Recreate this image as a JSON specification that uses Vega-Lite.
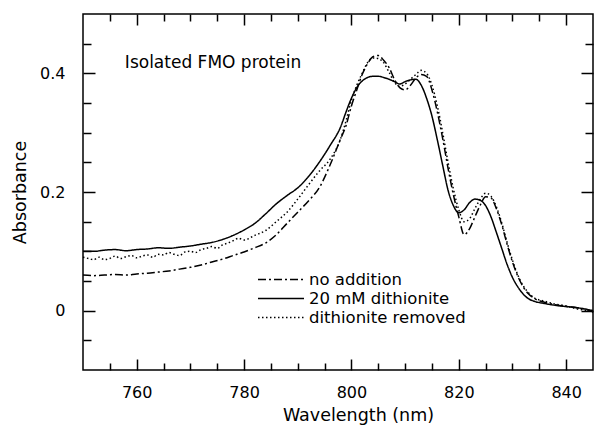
{
  "$schema": "https://vega.github.io/schema/vega-lite/v6.json",
  "width": 510,
  "height": 356,
  "autosize": "none",
  "padding": {"left": 83, "top": 14, "right": 2, "bottom": 57},
  "background": "white",
  "config": {
    "font": "DejaVu Sans",
    "view": {"stroke": "black", "strokeWidth": 1.5},
    "axis": {"domain": false, "grid": false, "tickColor": "black", "tickWidth": 1.5, "labelColor": "black", "titleColor": "black", "labelFontSize": 16, "titleFontSize": 17.5, "titleFontWeight": "normal", "labelFlush": false},
    "legend": {"labelFontSize": 16.5, "labelColor": "black"}
  },
  "datasets": {
    "spectra": [
      {"w":750,"a":0.100,"s":"20 mM dithionite"},{"w":752,"a":0.100,"s":"20 mM dithionite"},{"w":754,"a":0.102,"s":"20 mM dithionite"},{"w":756,"a":0.103,"s":"20 mM dithionite"},{"w":758,"a":0.101,"s":"20 mM dithionite"},{"w":760,"a":0.103,"s":"20 mM dithionite"},{"w":762,"a":0.104,"s":"20 mM dithionite"},{"w":764,"a":0.106,"s":"20 mM dithionite"},{"w":766,"a":0.105,"s":"20 mM dithionite"},{"w":768,"a":0.107,"s":"20 mM dithionite"},{"w":770,"a":0.109,"s":"20 mM dithionite"},{"w":772,"a":0.112,"s":"20 mM dithionite"},{"w":774,"a":0.115,"s":"20 mM dithionite"},{"w":776,"a":0.120,"s":"20 mM dithionite"},{"w":778,"a":0.127,"s":"20 mM dithionite"},{"w":780,"a":0.136,"s":"20 mM dithionite"},{"w":782,"a":0.147,"s":"20 mM dithionite"},{"w":784,"a":0.163,"s":"20 mM dithionite"},{"w":786,"a":0.180,"s":"20 mM dithionite"},{"w":788,"a":0.194,"s":"20 mM dithionite"},{"w":790,"a":0.207,"s":"20 mM dithionite"},{"w":792,"a":0.226,"s":"20 mM dithionite"},{"w":794,"a":0.250,"s":"20 mM dithionite"},{"w":796,"a":0.278,"s":"20 mM dithionite"},{"w":798,"a":0.310,"s":"20 mM dithionite"},{"w":799,"a":0.335,"s":"20 mM dithionite"},{"w":800,"a":0.358,"s":"20 mM dithionite"},{"w":801,"a":0.376,"s":"20 mM dithionite"},{"w":802,"a":0.387,"s":"20 mM dithionite"},{"w":803,"a":0.393,"s":"20 mM dithionite"},{"w":804,"a":0.395,"s":"20 mM dithionite"},{"w":805,"a":0.395,"s":"20 mM dithionite"},{"w":806,"a":0.393,"s":"20 mM dithionite"},{"w":807,"a":0.390,"s":"20 mM dithionite"},{"w":808,"a":0.386,"s":"20 mM dithionite"},{"w":809,"a":0.382,"s":"20 mM dithionite"},{"w":810,"a":0.386,"s":"20 mM dithionite"},{"w":811,"a":0.389,"s":"20 mM dithionite"},{"w":812,"a":0.390,"s":"20 mM dithionite"},{"w":813,"a":0.380,"s":"20 mM dithionite"},{"w":814,"a":0.358,"s":"20 mM dithionite"},{"w":815,"a":0.328,"s":"20 mM dithionite"},{"w":816,"a":0.288,"s":"20 mM dithionite"},{"w":817,"a":0.245,"s":"20 mM dithionite"},{"w":818,"a":0.203,"s":"20 mM dithionite"},{"w":819,"a":0.177,"s":"20 mM dithionite"},{"w":820,"a":0.165,"s":"20 mM dithionite"},{"w":821,"a":0.170,"s":"20 mM dithionite"},{"w":822,"a":0.182,"s":"20 mM dithionite"},{"w":823,"a":0.188,"s":"20 mM dithionite"},{"w":824,"a":0.186,"s":"20 mM dithionite"},{"w":825,"a":0.177,"s":"20 mM dithionite"},{"w":826,"a":0.158,"s":"20 mM dithionite"},{"w":827,"a":0.132,"s":"20 mM dithionite"},{"w":828,"a":0.105,"s":"20 mM dithionite"},{"w":829,"a":0.078,"s":"20 mM dithionite"},{"w":830,"a":0.056,"s":"20 mM dithionite"},{"w":831,"a":0.040,"s":"20 mM dithionite"},{"w":832,"a":0.028,"s":"20 mM dithionite"},{"w":833,"a":0.020,"s":"20 mM dithionite"},{"w":834,"a":0.016,"s":"20 mM dithionite"},{"w":836,"a":0.012,"s":"20 mM dithionite"},{"w":838,"a":0.009,"s":"20 mM dithionite"},{"w":840,"a":0.007,"s":"20 mM dithionite"},{"w":842,"a":0.005,"s":"20 mM dithionite"},{"w":844,"a":0.002,"s":"20 mM dithionite"},{"w":845,"a":0.000,"s":"20 mM dithionite"},
      {"w":750,"a":0.060,"s":"no addition"},{"w":752,"a":0.059,"s":"no addition"},{"w":754,"a":0.060,"s":"no addition"},{"w":756,"a":0.061,"s":"no addition"},{"w":758,"a":0.060,"s":"no addition"},{"w":760,"a":0.062,"s":"no addition"},{"w":762,"a":0.063,"s":"no addition"},{"w":764,"a":0.065,"s":"no addition"},{"w":766,"a":0.067,"s":"no addition"},{"w":768,"a":0.070,"s":"no addition"},{"w":770,"a":0.073,"s":"no addition"},{"w":772,"a":0.077,"s":"no addition"},{"w":774,"a":0.082,"s":"no addition"},{"w":776,"a":0.087,"s":"no addition"},{"w":778,"a":0.093,"s":"no addition"},{"w":780,"a":0.099,"s":"no addition"},{"w":782,"a":0.106,"s":"no addition"},{"w":784,"a":0.114,"s":"no addition"},{"w":786,"a":0.128,"s":"no addition"},{"w":788,"a":0.147,"s":"no addition"},{"w":790,"a":0.166,"s":"no addition"},{"w":792,"a":0.185,"s":"no addition"},{"w":794,"a":0.207,"s":"no addition"},{"w":796,"a":0.245,"s":"no addition"},{"w":798,"a":0.290,"s":"no addition"},{"w":799,"a":0.312,"s":"no addition"},{"w":800,"a":0.345,"s":"no addition"},{"w":801,"a":0.372,"s":"no addition"},{"w":802,"a":0.398,"s":"no addition"},{"w":803,"a":0.416,"s":"no addition"},{"w":804,"a":0.428,"s":"no addition"},{"w":805,"a":0.430,"s":"no addition"},{"w":806,"a":0.422,"s":"no addition"},{"w":807,"a":0.410,"s":"no addition"},{"w":808,"a":0.390,"s":"no addition"},{"w":809,"a":0.376,"s":"no addition"},{"w":810,"a":0.372,"s":"no addition"},{"w":811,"a":0.380,"s":"no addition"},{"w":812,"a":0.392,"s":"no addition"},{"w":813,"a":0.398,"s":"no addition"},{"w":814,"a":0.395,"s":"no addition"},{"w":815,"a":0.372,"s":"no addition"},{"w":816,"a":0.335,"s":"no addition"},{"w":817,"a":0.290,"s":"no addition"},{"w":818,"a":0.240,"s":"no addition"},{"w":819,"a":0.195,"s":"no addition"},{"w":820,"a":0.158,"s":"no addition"},{"w":821,"a":0.128,"s":"no addition"},{"w":822,"a":0.138,"s":"no addition"},{"w":823,"a":0.158,"s":"no addition"},{"w":824,"a":0.178,"s":"no addition"},{"w":825,"a":0.192,"s":"no addition"},{"w":826,"a":0.190,"s":"no addition"},{"w":827,"a":0.172,"s":"no addition"},{"w":828,"a":0.145,"s":"no addition"},{"w":829,"a":0.112,"s":"no addition"},{"w":830,"a":0.082,"s":"no addition"},{"w":831,"a":0.058,"s":"no addition"},{"w":832,"a":0.040,"s":"no addition"},{"w":833,"a":0.028,"s":"no addition"},{"w":834,"a":0.021,"s":"no addition"},{"w":836,"a":0.014,"s":"no addition"},{"w":838,"a":0.010,"s":"no addition"},{"w":840,"a":0.007,"s":"no addition"},{"w":842,"a":0.005,"s":"no addition"},{"w":844,"a":0.001,"s":"no addition"},{"w":845,"a":-0.002,"s":"no addition"},
      {"w":750,"a":0.090,"s":"dithionite removed"},{"w":751,"a":0.088,"s":"dithionite removed"},{"w":752,"a":0.086,"s":"dithionite removed"},{"w":753,"a":0.090,"s":"dithionite removed"},{"w":754,"a":0.086,"s":"dithionite removed"},{"w":755,"a":0.088,"s":"dithionite removed"},{"w":756,"a":0.092,"s":"dithionite removed"},{"w":757,"a":0.088,"s":"dithionite removed"},{"w":758,"a":0.091,"s":"dithionite removed"},{"w":759,"a":0.093,"s":"dithionite removed"},{"w":760,"a":0.089,"s":"dithionite removed"},{"w":761,"a":0.092,"s":"dithionite removed"},{"w":762,"a":0.094,"s":"dithionite removed"},{"w":763,"a":0.090,"s":"dithionite removed"},{"w":764,"a":0.095,"s":"dithionite removed"},{"w":765,"a":0.094,"s":"dithionite removed"},{"w":766,"a":0.098,"s":"dithionite removed"},{"w":767,"a":0.095,"s":"dithionite removed"},{"w":768,"a":0.093,"s":"dithionite removed"},{"w":769,"a":0.099,"s":"dithionite removed"},{"w":770,"a":0.100,"s":"dithionite removed"},{"w":771,"a":0.098,"s":"dithionite removed"},{"w":772,"a":0.103,"s":"dithionite removed"},{"w":773,"a":0.105,"s":"dithionite removed"},{"w":774,"a":0.108,"s":"dithionite removed"},{"w":775,"a":0.105,"s":"dithionite removed"},{"w":776,"a":0.111,"s":"dithionite removed"},{"w":777,"a":0.114,"s":"dithionite removed"},{"w":778,"a":0.118,"s":"dithionite removed"},{"w":779,"a":0.122,"s":"dithionite removed"},{"w":780,"a":0.119,"s":"dithionite removed"},{"w":782,"a":0.127,"s":"dithionite removed"},{"w":784,"a":0.135,"s":"dithionite removed"},{"w":786,"a":0.150,"s":"dithionite removed"},{"w":788,"a":0.166,"s":"dithionite removed"},{"w":790,"a":0.188,"s":"dithionite removed"},{"w":792,"a":0.212,"s":"dithionite removed"},{"w":794,"a":0.235,"s":"dithionite removed"},{"w":796,"a":0.255,"s":"dithionite removed"},{"w":798,"a":0.290,"s":"dithionite removed"},{"w":799,"a":0.320,"s":"dithionite removed"},{"w":800,"a":0.355,"s":"dithionite removed"},{"w":801,"a":0.380,"s":"dithionite removed"},{"w":802,"a":0.400,"s":"dithionite removed"},{"w":803,"a":0.418,"s":"dithionite removed"},{"w":804,"a":0.426,"s":"dithionite removed"},{"w":805,"a":0.425,"s":"dithionite removed"},{"w":806,"a":0.418,"s":"dithionite removed"},{"w":807,"a":0.402,"s":"dithionite removed"},{"w":808,"a":0.385,"s":"dithionite removed"},{"w":809,"a":0.378,"s":"dithionite removed"},{"w":810,"a":0.382,"s":"dithionite removed"},{"w":811,"a":0.390,"s":"dithionite removed"},{"w":812,"a":0.398,"s":"dithionite removed"},{"w":813,"a":0.405,"s":"dithionite removed"},{"w":814,"a":0.400,"s":"dithionite removed"},{"w":815,"a":0.380,"s":"dithionite removed"},{"w":816,"a":0.345,"s":"dithionite removed"},{"w":817,"a":0.300,"s":"dithionite removed"},{"w":818,"a":0.250,"s":"dithionite removed"},{"w":819,"a":0.205,"s":"dithionite removed"},{"w":820,"a":0.170,"s":"dithionite removed"},{"w":821,"a":0.150,"s":"dithionite removed"},{"w":822,"a":0.155,"s":"dithionite removed"},{"w":823,"a":0.172,"s":"dithionite removed"},{"w":824,"a":0.188,"s":"dithionite removed"},{"w":825,"a":0.198,"s":"dithionite removed"},{"w":826,"a":0.193,"s":"dithionite removed"},{"w":827,"a":0.175,"s":"dithionite removed"},{"w":828,"a":0.148,"s":"dithionite removed"},{"w":829,"a":0.115,"s":"dithionite removed"},{"w":830,"a":0.085,"s":"dithionite removed"},{"w":831,"a":0.060,"s":"dithionite removed"},{"w":832,"a":0.042,"s":"dithionite removed"},{"w":833,"a":0.030,"s":"dithionite removed"},{"w":834,"a":0.022,"s":"dithionite removed"},{"w":836,"a":0.016,"s":"dithionite removed"},{"w":838,"a":0.011,"s":"dithionite removed"},{"w":840,"a":0.008,"s":"dithionite removed"},{"w":842,"a":0.003,"s":"dithionite removed"},{"w":844,"a":0.000,"s":"dithionite removed"},{"w":845,"a":-0.003,"s":"dithionite removed"}
    ],
    "note": [{"w": 757.8, "a": 0.417, "t": "Isolated FMO protein"}]
  },
  "layer": [
    {
      "data": {"name": "spectra"},
      "mark": {"type": "line", "color": "black", "strokeWidth": 1.5, "interpolate": "monotone"},
      "encoding": {
        "x": {"field": "w", "type": "quantitative", "scale": {"domain": [750, 845], "nice": false, "zero": false},
          "axis": {"orient": "bottom", "values": [760, 780, 800, 820, 840], "offset": -11, "tickSize": 11, "labelPadding": 14,
            "title": "Wavelength (nm)", "titleX": 275, "titleY": 56, "titleBaseline": "middle", "titleAlign": "center"}},
        "y": {"field": "a", "type": "quantitative", "scale": {"domain": [-0.1, 0.5], "nice": false, "zero": false},
          "axis": {"orient": "left", "values": [0, 0.2, 0.4], "offset": -12, "tickSize": 12, "labelPadding": 18,
            "labelExpr": "datum.value === 0 ? '0' : format(datum.value, '.1f')",
            "title": "Absorbance", "titleX": -75, "titleY": 178, "titleBaseline": "middle", "titleAlign": "center", "titleAngle": -90}},
        "strokeDash": {"field": "s", "type": "nominal",
          "scale": {"domain": ["no addition", "20 mM dithionite", "dithionite removed"], "range": [[8, 3, 2, 3], [1, 0], [1.5, 2.5]]},
          "legend": {"orient": "none", "legendX": 174, "legendY": 256, "title": null, "symbolType": "stroke", "symbolSize": 2116,
            "symbolStrokeColor": "black", "symbolStrokeWidth": 1.5, "labelOffset": 4, "rowPadding": 0, "clipHeight": 19, "padding": 0}}
      }
    },
    {
      "data": {"name": "note"},
      "mark": {"type": "text", "align": "left", "baseline": "middle", "fontSize": 17, "color": "black"},
      "encoding": {
        "x": {"field": "w", "type": "quantitative", "scale": {"domain": [750, 845], "nice": false, "zero": false},
          "axis": {"orient": "top", "values": [760, 780, 800, 820, 840], "offset": -11, "tickSize": 11, "labels": false, "title": null}},
        "y": {"field": "a", "type": "quantitative", "scale": {"domain": [-0.1, 0.5], "nice": false, "zero": false},
          "axis": {"orient": "right", "values": [0, 0.2, 0.4], "offset": -12, "tickSize": 12, "labels": false, "title": null}},
        "text": {"field": "t", "type": "nominal"}
      }
    },
    {
      "data": {"name": "note"},
      "mark": {"type": "point", "opacity": 0},
      "encoding": {
        "x": {"field": "w", "type": "quantitative", "scale": {"domain": [750, 845], "nice": false, "zero": false},
          "axis": {"orient": "bottom", "values": [755,765,770,775,785,790,795,805,810,815,825,830,835], "offset": -7, "tickSize": 7, "labels": false, "title": null}},
        "y": {"field": "a", "type": "quantitative", "scale": {"domain": [-0.1, 0.5], "nice": false, "zero": false},
          "axis": {"orient": "left", "values": [-0.05,0.05,0.1,0.15,0.25,0.3,0.35,0.45], "offset": -8, "tickSize": 8, "labels": false, "title": null}}
      }
    },
    {
      "data": {"name": "note"},
      "mark": {"type": "point", "opacity": 0},
      "encoding": {
        "x": {"field": "w", "type": "quantitative", "scale": {"domain": [750, 845], "nice": false, "zero": false},
          "axis": {"orient": "top", "values": [755,765,770,775,785,790,795,805,810,815,825,830,835], "offset": -7, "tickSize": 7, "labels": false, "title": null}},
        "y": {"field": "a", "type": "quantitative", "scale": {"domain": [-0.1, 0.5], "nice": false, "zero": false},
          "axis": {"orient": "right", "values": [-0.05,0.05,0.1,0.15,0.25,0.3,0.35,0.45], "offset": -8, "tickSize": 8, "labels": false, "title": null}}
      }
    }
  ],
  "resolve": {"axis": {"x": "independent", "y": "independent"}}
}
